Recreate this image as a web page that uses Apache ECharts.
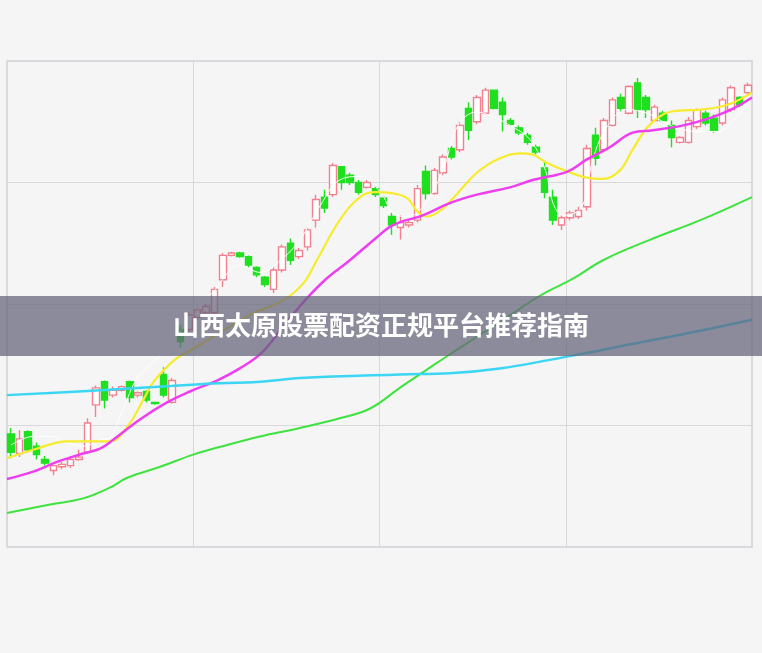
<!DOCTYPE html>
<html>
<head>
<meta charset="utf-8">
<script src="https://cdn.jsdelivr.net/npm/echarts@6/dist/echarts.min.js"></script>
<style>
  html, body { margin: 0; padding: 0; background: #f5f5f5; }
  #kBox { width: 762px; height: 653px; }
</style>
</head>
<body>
<div id="kBox"></div>
<script>
  // daily candles: [open, close, low, high]
  let kline = [
    [10.93,10.78,10.73,10.98],[10.77,10.89,10.74,10.96],[10.95,10.80,10.78,10.96],[10.83,10.76,10.72,10.86],
    [10.72,10.69,10.67,10.75],[10.63,10.67,10.59,10.67],[10.66,10.68,10.64,10.70],[10.67,10.72,10.65,10.74],
    [10.72,10.74,10.71,10.80],[10.78,11.02,10.77,11.06],[11.17,11.31,11.07,11.33],[11.36,11.21,11.14,11.37],
    [11.25,11.29,11.23,11.32],[11.29,11.32,11.28,11.33],[11.36,11.23,11.19,11.37],[11.25,11.27,11.23,11.28],
    [11.28,11.21,11.19,11.29],[11.19,11.18,11.17,11.19],[11.42,11.25,11.23,11.48],[11.19,11.37,11.18,11.39],
    [11.79,11.69,11.64,11.83],[11.79,11.91,11.77,11.93],[11.89,11.95,11.87,11.97],[11.93,11.98,11.91,12.00],
    [11.93,12.12,11.91,12.14],[12.20,12.40,12.14,12.42],[12.40,12.42,12.39,12.43],[12.42,12.39,12.38,12.43],
    [12.39,12.32,12.30,12.40],[12.30,12.24,12.22,12.31],[12.22,12.16,12.14,12.23],[12.12,12.28,12.09,12.30],
    [12.28,12.47,12.26,12.49],[12.50,12.36,12.32,12.54],[12.39,12.44,12.37,12.46],[12.47,12.61,12.44,12.63],
    [12.69,12.86,12.63,12.90],[12.88,12.79,12.75,12.94],[12.90,13.14,12.88,13.16],[13.13,13.00,12.94,13.13],
    [13.06,13.00,12.98,13.08],[13.00,12.92,12.90,13.02],[12.96,13.00,12.95,13.02],[12.95,12.90,12.88,12.97],
    [12.87,12.81,12.79,12.89],[12.72,12.65,12.57,12.75],[12.63,12.67,12.53,12.73],[12.65,12.67,12.63,12.69],
    [12.69,12.95,12.67,12.98],[13.09,12.91,12.86,13.14],[12.91,13.10,12.90,13.12],[13.08,13.21,13.06,13.23],
    [13.28,13.21,13.19,13.30],[13.27,13.47,13.25,13.50],[13.61,13.43,13.35,13.66],[13.50,13.70,13.48,13.72],
    [13.57,13.76,13.56,13.78],[13.76,13.61,13.60,13.76],[13.66,13.56,13.42,13.70],[13.51,13.48,13.47,13.53],
    [13.45,13.41,13.39,13.47],[13.39,13.33,13.31,13.41],[13.29,13.25,13.23,13.31],[13.12,12.92,12.87,13.18],
    [12.88,12.69,12.65,12.94],[12.65,12.71,12.61,12.73],[12.71,12.75,12.69,12.77],[12.72,12.77,12.70,12.80],
    [12.80,13.28,12.77,13.31],[13.39,13.20,13.14,13.45],[13.27,13.51,13.25,13.53],[13.47,13.68,13.46,13.70],
    [13.70,13.61,13.58,13.73],[13.57,13.79,13.56,13.80],[13.82,13.60,13.53,13.86],[13.70,13.60,13.53,13.72],
    [13.51,13.62,13.50,13.64],[13.57,13.51,13.50,13.59],[13.47,13.37,13.29,13.51],[13.33,13.37,13.32,13.38],
    [13.33,13.51,13.32,13.54],[13.46,13.60,13.44,13.61],[13.57,13.49,13.47,13.59],[13.53,13.43,13.41,13.56],
    [13.49,13.68,13.47,13.70],[13.60,13.78,13.58,13.80],[13.70,13.64,13.62,13.71],[13.74,13.80,13.72,13.82]
  ];
  let days = kline.map(function (k, i) { return 'D' + (i + 1); });

  // moving average lines: [day index, price]
  let ma5 = [
    [0,10.84],[2.6,10.91],[4.6,10.91],[6.6,10.86],[8.5,10.83],[10.5,10.88],[11.7,10.91],[13.2,11.13],
    [14.9,11.39],[17.6,11.58],[21.1,11.87],[24.1,12.12],[27,12.32],[29.4,12.26],[31.8,12.36],[34.1,12.53],
    [36.5,12.81],[38.8,13.02],[41.2,13.05],[43.6,12.92],[45.1,12.75],[46.8,12.72],[48.6,12.80],[51,13.10],
    [52.7,13.46],[55,13.58],[56.9,13.54],[58.9,13.47],[61.3,13.35],[63.1,13.10],[64,12.83],[65.2,12.73],
    [67.4,12.80],[68.7,13.19],[70.4,13.46],[72.7,13.60],[75.1,13.57],[77,13.50],[78.6,13.45],[81,13.42],
    [83.4,13.42],[85.3,13.51],[87.3,13.68]
  ];
  let ma10 = [
    [-0.5,10.73],[2.6,10.80],[6.6,10.87],[11.7,10.87],[13.7,10.99],[15.6,11.21],[16.7,11.35],[19.3,11.54],
    [21.7,11.64],[28.2,11.91],[32.1,12.03],[34.5,12.17],[36.1,12.36],[38.8,12.69],[41.2,12.88],[43,12.92],
    [45.1,12.91],[46.8,12.87],[48,12.76],[49.1,12.72],[50.7,12.77],[52.7,12.91],[55,13.08],[57.4,13.19],
    [60.1,13.24],[61.6,13.23],[63.3,13.16],[65.7,13.09],[68,13.04],[69.9,13.03],[71.9,13.10],[73.4,13.27],
    [75.1,13.45],[77,13.56],[78.6,13.59],[81.4,13.60],[84.6,13.64],[87.5,13.74]
  ];
  let ma20 = [
    [-0.5,10.56],[2.6,10.62],[5.4,10.70],[8.5,10.77],[10.5,10.81],[12,10.88],[15.2,11.05],[18.4,11.19],
    [21.1,11.28],[24.3,11.37],[27,11.47],[29.6,11.60],[32.3,11.83],[34.7,12.03],[37.1,12.20],[40,12.36],
    [43.2,12.55],[45.1,12.65],[48.6,12.73],[51.8,12.83],[55,12.90],[58.9,12.96],[61.6,13.02],[65.7,13.09],
    [68,13.19],[70.7,13.29],[73.4,13.41],[75.8,13.43],[79.4,13.47],[82.9,13.54],[85.3,13.61],[87.5,13.70]
  ];
  let ma60 = [
    [-0.5,10.28],[4.6,10.35],[8.5,10.40],[11.7,10.49],[13.7,10.57],[17.6,10.66],[21.5,10.76],[25.5,10.84],
    [29.4,10.91],[34.1,10.98],[38.8,11.06],[42.4,11.14],[45.9,11.31],[49.1,11.46],[53,11.64],[57.7,11.85],
    [62.5,12.07],[66.4,12.21],[69.9,12.36],[75.5,12.53],[81.4,12.69],[87.5,12.88]
  ];
  let ma120 = [
    [-0.5,11.25],[10.5,11.29],[22.3,11.34],[29.4,11.36],[34.1,11.39],[45.9,11.42],[51.8,11.43],[57.7,11.47],
    [63.6,11.54],[69.6,11.62],[75.5,11.70],[81.4,11.78],[87.5,11.87]
  ];
  let title = '山西太原股票配资正规平台推荐指南';

  let myChart = echarts.init(document.getElementById('kBox'));

  function maLine(data, color, width) {
    return {
      type: 'line',
      xAxisIndex: 1,
      data: data,
      smooth: 0.4,
      showSymbol: false,
      silent: true,
      lineStyle: { color: color, width: width }
    };
  }

  let option = {
    backgroundColor: '#f5f5f5',
    animation: false,
    grid: {
      left: 7, right: 10, top: 61, bottom: 106,
      show: true,
      borderColor: '#cfd1d5',
      borderWidth: 1.5
    },
    xAxis: [
      {
        type: 'category',
        data: days,
        boundaryGap: true,
        axisLine: { show: false },
        axisTick: { show: false },
        axisLabel: { show: false },
        splitLine: { show: true, interval: 21, lineStyle: { color: '#d8d9dc', width: 1 } }
      },
      {
        type: 'value',
        min: -0.5,
        max: 87.5,
        show: false
      }
    ],
    yAxis: {
      type: 'value',
      min: 10,
      max: 14,
      interval: 1,
      axisLine: { show: false },
      axisTick: { show: false },
      axisLabel: { show: false },
      splitLine: { show: true, lineStyle: { color: '#d8d9dc', width: 1 } }
    },
    series: [
      {
        type: 'candlestick',
        data: kline,
        barWidth: 7,
        itemStyle: {
          color: '#ffffff',
          color0: '#1fe01f',
          borderColor: '#f2808f',
          borderColor0: '#1fe01f',
          borderWidth: 1.4
        }
      },
      maLine(ma5, 'rgba(255,255,255,0.95)', 1),
      maLine(ma10, '#f7ec2c', 2.2),
      maLine(ma20, '#ee3ef0', 2.5),
      maLine(ma60, '#3fe23f', 2),
      maLine(ma120, '#3ad6f4', 2.5)
    ],
    graphic: [
      {
        type: 'rect',
        z: 100,
        shape: { x: 0, y: 296, width: 762, height: 60 },
        style: { fill: 'rgba(100,98,120,0.72)' }
      },
      {
        type: 'text',
        z: 101,
        left: 'center',
        top: 312,
        style: {
          text: title,
          fill: '#ffffff',
          font: 'bold 26px "Noto Sans CJK SC", sans-serif'
        }
      }
    ]
  };
  myChart.setOption(option);
</script>
</body>
</html>
